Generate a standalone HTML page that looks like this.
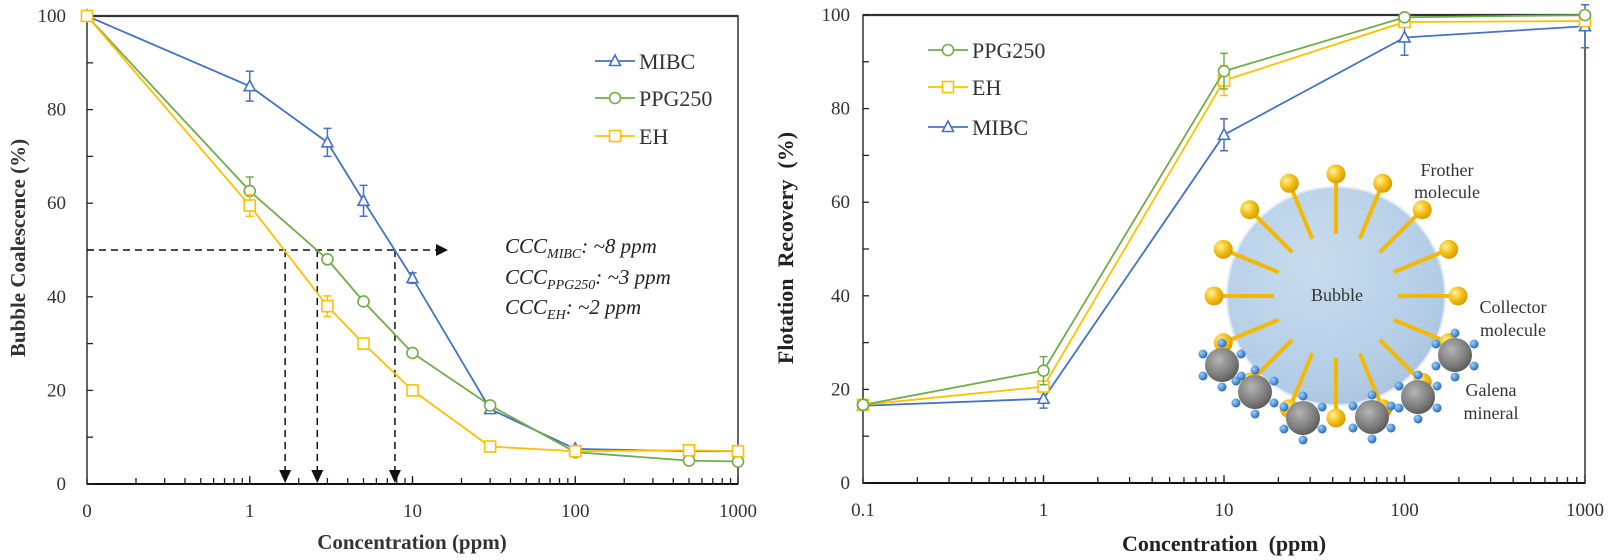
<!DOCTYPE html>
<html><head><meta charset="utf-8"><style>
html,body{margin:0;padding:0;background:#fff;}
svg{display:block;font-family:"Liberation Serif",serif;}
</style></head><body>
<svg id="svg" width="1618" height="560" viewBox="0 0 1618 560" xmlns="http://www.w3.org/2000/svg">
<defs>
<radialGradient id="gBubble" cx="0.4" cy="0.35" r="0.7"><stop offset="0" stop-color="#c9dcee"/><stop offset="0.8" stop-color="#b3cde6"/><stop offset="1" stop-color="#a9c3de"/></radialGradient>
<radialGradient id="gGold" cx="0.35" cy="0.35" r="0.7"><stop offset="0" stop-color="#fff3a0"/><stop offset="0.5" stop-color="#f6c21a"/><stop offset="1" stop-color="#d49a00"/></radialGradient>
<radialGradient id="gGrey" cx="0.4" cy="0.35" r="0.7"><stop offset="0" stop-color="#b5b5b5"/><stop offset="0.7" stop-color="#777"/><stop offset="1" stop-color="#555"/></radialGradient>
<radialGradient id="gBlue" cx="0.35" cy="0.35" r="0.7"><stop offset="0" stop-color="#9cd0ff"/><stop offset="1" stop-color="#1f66b8"/></radialGradient>
</defs>
</svg>
<script>
// ---------- Left chart data ----------
const leftX = [0.1, 1, 3, 5, 10, 30, 100, 500, 1000];
const leftMIBC = [100, 85, 73, 60.5, 44, 16, 7.5, 7, 7];
const leftPPG = [100, 62.6, 48, 39, 28, 16.8, 6.8, 5, 4.8];
const leftEH = [100, 59.5, 38, 30, 20, 8, 7, 7.2, 7];
const leftErrMIBC = [0, 3.2, 3, 3.3, 1.1, 0, 0, 0, 0];
const leftErrPPG = [0, 3, 0, 0, 0, 0, 0, 0, 0];
const leftErrEH = [0, 2.3, 2.2, 0, 0, 0, 0, 0, 0];
const leftXTickVals = [0.1, 1, 10, 100, 1000];
const leftXTickLabels = ["0", "1", "10", "100", "1000"];
const yTicks = [0, 20, 40, 60, 80, 100];
const cccValues = [1.65, 2.6, 7.8];
// ---------- Right chart data ----------
const rightX = [0.1, 1, 10, 100, 1000];
const rightPPG = [16.7, 24, 88, 99.5, 100];
const rightEH = [16.7, 20.6, 86, 98.5, 98.7];
const rightMIBC = [16.5, 18, 74.4, 95.2, 97.6];
const rightErrPPG = [0, 3, 3.8, 0, 0];
const rightErrEH = [0, 0, 3.2, 0, 0];
const rightErrMIBC = [0, 2, 3.4, 3.8, 4.6];
const rightXTickLabels = ["0.1", "1", "10", "100", "1000"];

const NS = "http://www.w3.org/2000/svg";
const svg = document.getElementById('svg');
function mk(tag, attrs, parent){
  const e = document.createElementNS(NS, tag);
  for (const k in attrs) e.setAttribute(k, attrs[k]);
  (parent||svg).appendChild(e);
  return e;
}
const BLUE="#4472C4", GREEN="#70AD47", GOLD="#FFC000";

function makeAxes(px0, px1, py0, py1){
  const lx = v => px0 + (Math.log10(v) - Math.log10(0.1)) / 4 * (px1 - px0);
  const ly = v => py0 - v / 100 * (py0 - py1);
  return {lx, ly};
}
function marker(g, type, x, y, color){
  let m;
  if (type==='tri') m = mk('polygon',{points:`${x},${y-6} ${x-5.5},${y+4.5} ${x+5.5},${y+4.5}`,fill:'#fff',stroke:color,'stroke-width':1.6},g);
  else if (type==='circ') m = mk('circle',{cx:x,cy:y,r:5.5,fill:'#fff',stroke:color,'stroke-width':1.6},g);
  else m = mk('rect',{x:x-5.5,y:y-5.5,width:11,height:11,fill:'#fff',stroke:color,'stroke-width':1.6},g);
  return m;
}
function series(name, xs, ys, errs, type, color, ax){
  const g = mk('g',{});
  
  
  const pts = xs.map((x,i)=>ax.lx(x)+','+ax.ly(ys[i])).join(' ');
  mk('polyline',{points:pts,fill:'none',stroke:color,'stroke-width':1.8},g);
  xs.forEach((x,i)=>{
    if (errs[i]>0){
      const X=ax.lx(x), t=ax.ly(ys[i]+errs[i]), b=ax.ly(ys[i]-errs[i]);
      mk('path',{d:`M${X},${t}V${b}M${X-4},${t}H${X+4}M${X-4},${b}H${X+4}`,stroke:color,'stroke-width':1.5,fill:'none'},g);
    }
  });
  xs.forEach((x,i)=>{
    const m = marker(g,type,ax.lx(x),ax.ly(ys[i]),color);
    
    
  });
}
function frame(ax, px0, px1, py0, py1, tickLabels, labelX, labelAnchor, name){
  const g = mk('g',{});
  
  
  mk('rect',{x:px0,y:py1,width:px1-px0,height:py0-py1,fill:'none',stroke:'#222','stroke-width':1.4},g);
  mk('line',{x1:px0,y1:py1,x2:px1,y2:py1,stroke:'#333','stroke-width':2.2},g);
  mk('line',{x1:px0,y1:py0,x2:px1,y2:py0,stroke:'#111','stroke-width':2},g);
  for (let v=0; v<=100; v+=10){
    const y=ax.ly(v);
    mk('line',{x1:px0,y1:y,x2:px0+6,y2:y,stroke:'#222','stroke-width':1.3},g);
  }
  yTicks.forEach(v=>{
    const t = mk('text',{x:labelX,y:ax.ly(v)+6,'text-anchor':'end','font-size':19,fill:'#333'},g);
    t.textContent = v;
    
    
  });
  for (let d=-1; d<3; d++){
    for (let k=1;k<=10;k++){
      const v = k*Math.pow(10,d);
      const x = ax.lx(v);
      mk('line',{x1:x,y1:py0,x2:x,y2:py0-(k===10?8:6),stroke:'#222','stroke-width':1.3},g);
    }
  }
  [0.1,1,10,100,1000].forEach((v,i)=>{
    const t = mk('text',{x:ax.lx(v),y:py0+33,'text-anchor':'middle','font-size':19,fill:'#333'},g);
    t.textContent = tickLabels[i];
    
    
  });
}
function legend(items, x, ys, name){
  const g = mk('g',{});
  
  
  items.forEach((it,i)=>{
    mk('line',{x1:x,y1:ys[i],x2:x+40,y2:ys[i],stroke:it[2],'stroke-width':1.8},g);
    marker(g,it[1],x+20,ys[i],it[2]);
    const t = mk('text',{x:x+44,y:ys[i]+8,'font-size':22,fill:'#333'},g);
    t.textContent = it[0];
    
    
  });
}

// ===== Left chart =====
const A = makeAxes(87, 738, 484, 16);
frame(A, 87, 738, 484, 16, leftXTickLabels, 66, 'end', 'left-chart');
// guide lines
(function(){
  const g = mk('g',{});
  
  
  const y50 = A.ly(50);
  mk('line',{x1:87,y1:y50,x2:436,y2:y50,stroke:'#111','stroke-width':1.5,'stroke-dasharray':'7,5'},g);
  mk('polygon',{points:`436,${y50-6} 448,${y50} 436,${y50+6}`,fill:'#111'},g);
  cccValues.forEach(v=>{
    const x=A.lx(v);
    mk('line',{x1:x,y1:y50,x2:x,y2:470,stroke:'#111','stroke-width':1.5,'stroke-dasharray':'7,5'},g);
    mk('polygon',{points:`${x-6},470 ${x+6},470 ${x},483`,fill:'#111'},g);
  });
})();
series('mibc-coalescence-series', leftX, leftMIBC, leftErrMIBC, 'tri', BLUE, A);
series('ppg250-coalescence-series', leftX, leftPPG, leftErrPPG, 'circ', GREEN, A);
series('eh-coalescence-series', leftX, leftEH, leftErrEH, 'sq', GOLD, A);
legend([["MIBC",'tri',BLUE],["PPG250",'circ',GREEN],["EH",'sq',GOLD]], 595, [61,98,136], 'left-legend');
</script>
<script>
// annotations and titles (static markup appended)
(function(){
  const s = document.getElementById('svg');
  s.insertAdjacentHTML('beforeend', `
<text x="505" y="253" font-size="21" font-style="italic" fill="#222">CCC<tspan font-size="14" dy="5">MIBC</tspan><tspan dy="-5">: ~8 ppm</tspan></text>
<text x="505" y="284" font-size="21" font-style="italic" fill="#222">CCC<tspan font-size="14" dy="5">PPG250</tspan><tspan dy="-5">: ~3 ppm</tspan></text>
<text x="505" y="314" font-size="21" font-style="italic" fill="#222">CCC<tspan font-size="14" dy="5">EH</tspan><tspan dy="-5">: ~2 ppm</tspan></text>
<text x="412" y="549" text-anchor="middle" font-size="21" font-weight="bold" fill="#333">Concentration (ppm)</text>
<text transform="translate(25,248) rotate(-90)" text-anchor="middle" font-size="21" font-weight="bold" fill="#333">Bubble Coalescence (%)</text>
<text x="1224" y="551" text-anchor="middle" font-size="22" font-weight="bold" fill="#222">Concentration&#160; (ppm)</text>
<text transform="translate(793,248) rotate(-90)" text-anchor="middle" font-size="22" font-weight="bold" fill="#222">Flotation&#160; Recovery&#160; (%)</text>
`);
})();
</script>
<script>
// ===== Right chart =====
const B = makeAxes(863, 1585, 483, 15);
frame(B, 863, 1585, 483, 15, rightXTickLabels, 850, 'end', 'right-chart');
series('mibc-recovery-series', rightX, rightMIBC, rightErrMIBC, 'tri', BLUE, B);
series('eh-recovery-series', rightX, rightEH, rightErrEH, 'sq', GOLD, B);
series('ppg250-recovery-series', rightX, rightPPG, rightErrPPG, 'circ', GREEN, B);
legend([["PPG250",'circ',GREEN],["EH",'sq',GOLD],["MIBC",'tri',BLUE]], 928, [50,87,127], 'right-legend');

// ===== Bubble diagram =====
(function(){
  const g = mk('g',{});
  
  
  const cx=1336, cy=296, R=109;
  const bubble = mk('circle',{cx:cx,cy:cy,r:R,fill:'url(#gBubble)',stroke:'#dfe9f3','stroke-width':2},g);
  
  
  for (let i=0;i<16;i++){
    const a = -Math.PI/2 + i*Math.PI/8;
    const c=Math.cos(a), s=Math.sin(a);
    mk('line',{x1:cx+c*62,y1:cy+s*62,x2:cx+c*115,y2:cy+s*115,stroke:'#F5B800','stroke-width':4},g);
    mk('circle',{cx:cx+c*122,cy:cy+s*122,r:9.5,fill:'url(#gGold)'},g);
  }
  const galena = [[1222,365],[1255,392],[1303,418],[1372,417],[1418,397],[1455,355]];
  galena.forEach(p=>{
    const gg = mk('g',{},g);
    
    
    mk('circle',{cx:p[0],cy:p[1],r:17,fill:'url(#gGrey)'},gg);
    for (let k=0;k<6;k++){
      const a = Math.PI/6 + k*Math.PI/3;
      mk('circle',{cx:p[0]+Math.cos(a)*22,cy:p[1]+Math.sin(a)*22,r:4.5,fill:'url(#gBlue)'},gg);
    }
  });
})();
</script>
<script>
document.getElementById('svg').insertAdjacentHTML('beforeend', `
<text x="1337" y="301" text-anchor="middle" font-size="18" fill="#333">Bubble</text>
<text x="1447" y="176" text-anchor="middle" font-size="18" fill="#333">Frother</text>
<text x="1447" y="198" text-anchor="middle" font-size="18" fill="#333">molecule</text>
<text x="1513" y="313" text-anchor="middle" font-size="18" fill="#333">Collector</text>
<text x="1513" y="336" text-anchor="middle" font-size="18" fill="#333">molecule</text>
<text x="1491" y="396" text-anchor="middle" font-size="18" fill="#333">Galena</text>
<text x="1491" y="419" text-anchor="middle" font-size="18" fill="#333">mineral</text>
`);
</script>
</body></html>
